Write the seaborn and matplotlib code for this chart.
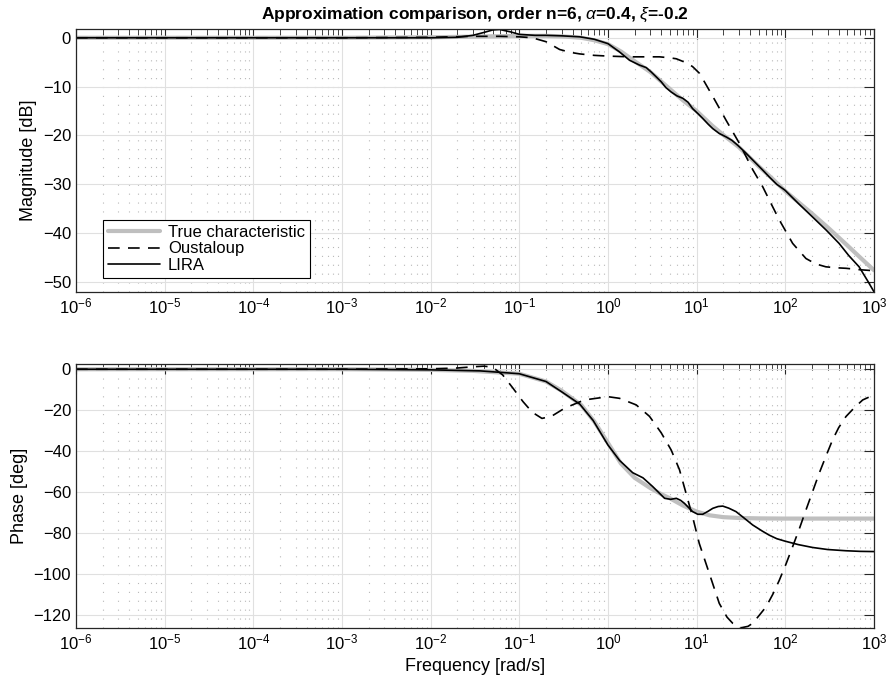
import numpy as np
import seaborn as sns
import matplotlib.pyplot as plt
from matplotlib.ticker import LogLocator, NullFormatter

# ---- magnitude data [dB] ----
w_true_mag = [1e-6, 1e-3, 1e-2, 0.05, 0.1, 0.2, 0.3, 0.5, 0.7, 1.0, 1.4, 2.0, 3.0, 5.0, 7.0,
              10, 15, 20, 30, 50, 70, 100, 200, 300, 500, 700, 1000]
true_mag = [0, 0, 0.1, 0.3, 0.4, 0.4, 0.3, 0.0, -0.5, -1.3, -2.8, -4.8, -7.0, -10.5, -12.8,
            -15.0, -18.0, -19.9, -22.4, -26.3, -28.7, -31.4, -36.0, -38.8, -42.5, -45.0, -47.6]

w_oust_mag = [1e-6, 1e-3, 0.01, 0.03, 0.06, 0.1, 0.14, 0.2, 0.285, 0.38, 0.48, 0.7, 1.0, 1.75,
              3.0, 3.8, 5.0, 5.9, 7.6, 9.0, 10.8, 15.2, 21.5, 30.3, 42.9, 55.6, 72, 85.6, 121,
              171, 220, 287, 380, 483, 700, 1000]
oust_mag = [0, 0, 0.1, 0.3, 0.3, 0.2, 0.0, -0.8, -2.4, -3.0, -3.3, -3.6, -3.75, -3.9,
            -3.9, -3.9, -4.1, -4.3, -5.1, -5.9, -7.3, -12.0, -16.9, -21.6, -27.0, -30.5, -34.6, -37.3, -42.1,
            -45.2, -46.3, -46.9, -47.1, -47.2, -47.5, -47.7]

w_lira_mag = [1e-6, 1e-3, 0.01, 0.02, 0.03, 0.04, 0.05, 0.06, 0.08, 0.1, 0.15, 0.2, 0.3, 0.48,
              0.7, 1.0, 1.35, 1.75, 2.27, 2.7, 3.07, 3.5, 3.98, 4.5, 5.16, 6.0, 7.0, 8.0, 9.0,
              10.3, 11.7, 13.5, 15.2, 18, 21.5, 25, 29, 35, 42.8, 55, 66, 80, 99, 140, 203,
              290, 404, 520, 680, 850, 1000]
lira_mag = [0, 0, 0, 0.1, 0.5, 1.1, 1.6, 1.7, 1.2, 0.7, 0.5, 0.5, 0.4, 0.2,
            -0.3, -1.2, -2.9, -4.6, -5.6, -6.1, -7.0, -8.0, -9.0, -10.2, -11.1, -11.9, -12.4, -13.2, -14.5,
            -15.5, -16.5, -17.7, -18.6, -19.6, -20.3, -21.0, -22.0, -23.4, -25.0, -27.0, -28.5, -30.0, -31.2,
            -33.9, -36.7, -39.4, -42.1, -44.6, -46.9, -49.8, -52.0]

# ---- phase data [deg] ----
w_true_ph = [1e-6, 1e-3, 0.01, 0.03, 0.1, 0.2, 0.3, 0.5, 0.7, 1.0, 1.4, 2.0, 3.0, 4.0, 5.0,
             7.0, 10, 14, 20, 30, 50, 100, 1000]
true_ph = [0, 0, -0.3, -0.8, -2.2, -6, -10.5, -17.5, -25.5, -36, -46, -53, -58, -61, -63,
           -66.5, -69.5, -71.3, -72.2, -72.6, -72.8, -72.9, -72.9]

w_oust_ph = [1e-6, 1e-3, 0.01, 0.02, 0.03, 0.04, 0.05, 0.065, 0.085, 0.11, 0.14, 0.18, 0.23,
             0.325, 0.54, 1.0, 1.35, 2.08, 2.94, 3.98, 5.16, 6.4, 7.6, 9.0, 10.7, 13.9, 18, 22,
             25.5, 31.7, 38, 42.8, 50, 60.6, 72, 85.6, 102, 121, 145, 171, 204, 241, 290, 341,
             400, 483, 600, 746, 1000]
oust_ph = [0, 0, 0.2, 0.6, 1.2, 1.5, 1.0, -2.8, -9.3, -15.8, -21, -24, -23,
           -19, -15, -13.4, -14.2, -17.4, -23, -31, -39.4, -49, -60.6, -72, -85, -99.7, -114.3, -121,
           -124, -126.2, -125.5, -124, -120.5, -116, -110, -103, -95, -86.6, -77.5, -68.7, -59.5, -50.8, -42, -34.5,
           -28.5, -23.1, -18.8, -15, -12.5]

w_lira_ph = [1e-6, 1e-3, 0.01, 0.036, 0.1, 0.2, 0.3, 0.48, 0.68, 1.0, 1.35, 1.9, 2.48, 3.2, 3.8,
             4.35, 5.1, 5.9, 6.6, 7.3, 9.0, 10.3, 11.7, 13.5, 15.2, 17.5, 19.7, 23, 27.8, 34,
             42.8, 55, 66, 80, 99, 140, 203, 300, 483, 700, 1000]
lira_ph = [0, 0, -0.3, -0.8, -2.2, -6, -11, -17, -25, -37, -44.5, -50.5, -53, -57.3, -60.5,
           -63, -63.5, -63, -64, -65.5, -69.5, -70.8, -70.8, -69.3, -67.9, -67.0, -66.8, -67.8, -69.5, -72.5,
           -76, -79, -81, -82.7, -83.9, -85.6, -87, -88, -88.6, -88.9, -89]

xticks = [10.0 ** k for k in range(-6, 4)]

sns.set_theme(style="white")
plt.rcParams['font.family'] = ['Liberation Sans', 'DejaVu Sans']
plt.rcParams['mathtext.fontset'] = 'custom'
plt.rcParams['mathtext.rm'] = 'Liberation Sans'
plt.rcParams['mathtext.it'] = 'Liberation Sans:italic'
plt.rcParams['mathtext.bf'] = 'Liberation Sans:bold'
plt.rcParams['text.color'] = 'black'
plt.rcParams['axes.labelcolor'] = 'black'

fig = plt.figure(figsize=(8.95, 6.87), dpi=100)
ax1 = fig.add_axes([0.0849, 0.5750, 0.8916, 0.3828])
ax2 = fig.add_axes([0.0849, 0.0859, 0.8916, 0.3838])


def style_axes(ax, ylim, yticks):
    ax.set_xscale('log')
    ax.set_xlim(1e-6, 1e3)
    ax.set_ylim(*ylim)
    ax.set_yticks(yticks)
    ax.set_xticks(xticks)
    ax.xaxis.set_minor_locator(LogLocator(base=10, subs=np.arange(2, 10), numticks=100))
    ax.xaxis.set_minor_formatter(NullFormatter())
    ax.tick_params(which='both', direction='in', top=True, right=True, colors='0.15',
                   labelcolor='black', labelsize=12)
    ax.tick_params(which='major', length=7, width=0.8)
    ax.tick_params(which='minor', length=4, width=0.6)
    ax.grid(which='major', color='0.88', linewidth=0.8, linestyle='-')
    ax.grid(which='minor', axis='x', color='0.72', linewidth=0.8, linestyle=(0, (1, 7)))
    for s in ax.spines.values():
        s.set_color('0.15')
        s.set_linewidth(0.9)
    ax.set_axisbelow(True)


def draw(ax, series):
    for (w, v, color, lw, ls, lab) in series:
        sns.lineplot(x=w, y=v, ax=ax, color=color, linewidth=lw, linestyle=ls,
                     label=lab, estimator=None, sort=False)


draw(ax1, [(w_true_mag, true_mag, '0.75', 3.0, '-', 'True characteristic'),
           (w_oust_mag, oust_mag, 'black', 1.2, (0, (7, 5)), 'Oustaloup'),
           (w_lira_mag, lira_mag, 'black', 1.2, '-', 'LIRA')])
draw(ax2, [(w_true_ph, true_ph, '0.75', 3.0, '-', None),
           (w_oust_ph, oust_ph, 'black', 1.2, (0, (7, 5)), None),
           (w_lira_ph, lira_ph, 'black', 1.2, '-', None)])

style_axes(ax1, (-52.05, 1.8), [-50, -40, -30, -20, -10, 0])
style_axes(ax2, (-126.3, 2.4), [-120, -100, -80, -60, -40, -20, 0])

ax1.set_ylabel('Magnitude [dB]', fontsize=13)
ax2.set_ylabel('Phase [deg]', fontsize=13)
ax2.set_xlabel('Frequency [rad/s]', fontsize=13)
ax1.set_xlabel('')
ax1.set_title(r'Approximation comparison, order n=6, $\alpha$=0.4, $\xi$=-0.2',
              fontsize=12.5, fontweight='bold', pad=7, color='black')

leg = ax1.legend(loc='lower left', bbox_to_anchor=(0.034, 0.053), frameon=True, fancybox=False,
                 edgecolor='black', framealpha=1, fontsize=12, borderaxespad=0,
                 handlelength=3.1, labelspacing=0.1, borderpad=0.3, handletextpad=0.5)
leg.get_frame().set_linewidth(0.8)
if ax2.get_legend() is not None:
    ax2.get_legend().remove()

fig.savefig('out.png', dpi=100)
